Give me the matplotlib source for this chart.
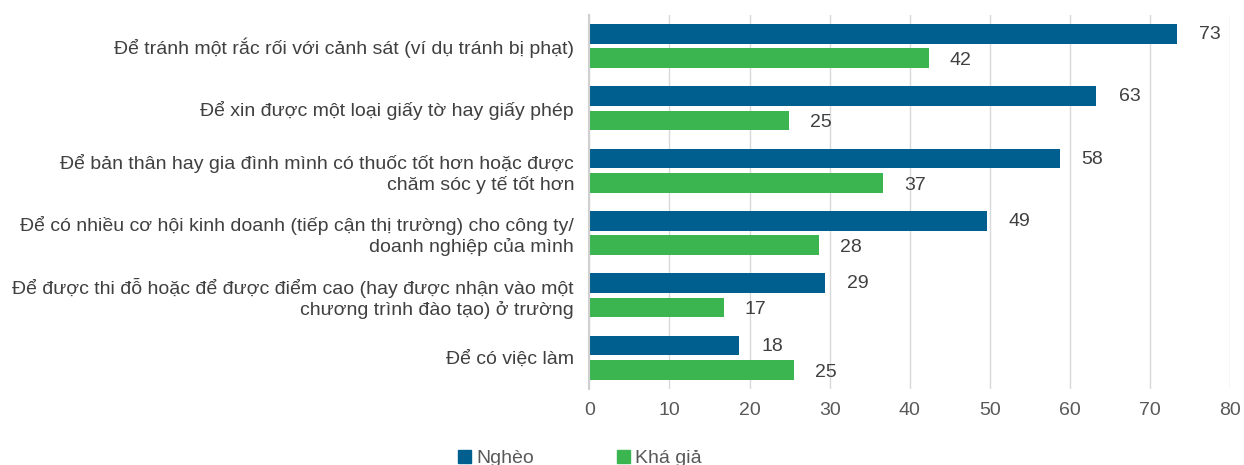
import matplotlib
matplotlib.use("Agg")
import matplotlib.pyplot as plt
import numpy as np
from matplotlib.patches import Patch

categories = [
    "Để tránh một rắc rối với cảnh sát (ví dụ tránh bị phạt)",
    "Để xin được một loại giấy tờ hay giấy phép",
    "Để bản thân hay gia đình mình có thuốc tốt hơn hoặc được\nchăm sóc y tế tốt hơn",
    "Để có nhiều cơ hội kinh doanh (tiếp cận thị trường) cho công ty/\ndoanh nghiệp của mình",
    "Để được thi đỗ hoặc để được điểm cao (hay được nhận vào một\nchương trình đào tạo) ở trường",
    "Để có việc làm",
]
ngheo = [73.4, 63.3, 58.7, 49.6, 29.4, 18.7]
kha_gia = [42.4, 24.9, 36.7, 28.7, 16.8, 25.6]
ngheo_labels = ["73", "63", "58", "49", "29", "18"]
kha_gia_labels = ["42", "25", "37", "28", "17", "25"]
series_names = ["Nghèo", "Khá giả"]
xticks = [0, 10, 20, 30, 40, 50, 60, 70, 80]

plt.rcParams['font.family'] = ['Liberation Sans', 'DejaVu Sans']

W, H = 1244, 465
fig = plt.figure(figsize=(W / 100, H / 100), dpi=100)
ax = fig.add_axes([589.3 / W, 1 - 388.8 / H, (1230.3 - 589.3) / W, (388.8 - 14.7) / H])

blue = "#005F8F"
green = "#3AB54F"
y = np.arange(len(categories))
h = 0.315
off = 0.195
ax.barh(y - off, ngheo, height=h, color=blue, zorder=3)
ax.barh(y + off, kha_gia, height=h, color=green, zorder=3)

for yi, v, t in zip(y, ngheo, ngheo_labels):
    ax.text(v + 2.75, yi - off + 0.01, t, va="center", ha="left", fontsize=14, color="#404040")
for yi, v, t in zip(y, kha_gia, kha_gia_labels):
    ax.text(v + 2.6, yi + off + 0.04, t, va="center", ha="left", fontsize=14, color="#404040")

ax.set_ylim(len(categories) - 0.5, -0.5)
ax.set_xlim(0, 80)
ax.set_xticks(xticks)
ax.set_xticklabels([str(t) for t in xticks], fontsize=14, color="#595959")
ax.set_yticks(y)
ax.set_yticklabels(categories, fontsize=14, color="#404040", ha="right")
ax.tick_params(axis="y", length=0, pad=11)
ax.tick_params(axis="x", length=0, pad=9.5)
ax.grid(axis="x", color="#D9D9D9", linewidth=1, zorder=0)
for s in ["top", "right", "bottom"]:
    ax.spines[s].set_visible(False)
ax.spines["left"].set_color("#D0D0D0")
ax.spines["left"].set_linewidth(1.5)
ax.spines["left"].set_zorder(4)

handles = [Patch(color=blue, label=series_names[0]), Patch(color=green, label=series_names[1])]
fig.legend(handles=handles, loc="upper left", bbox_to_anchor=(458 / W, 1 - 450 / H), ncol=2,
           frameon=False, fontsize=14, handlelength=0.65, handleheight=0.65,
           handletextpad=0.3, columnspacing=4.25, labelcolor="#595959",
           borderpad=0, borderaxespad=0)

fig.savefig("out.png", dpi=100)
